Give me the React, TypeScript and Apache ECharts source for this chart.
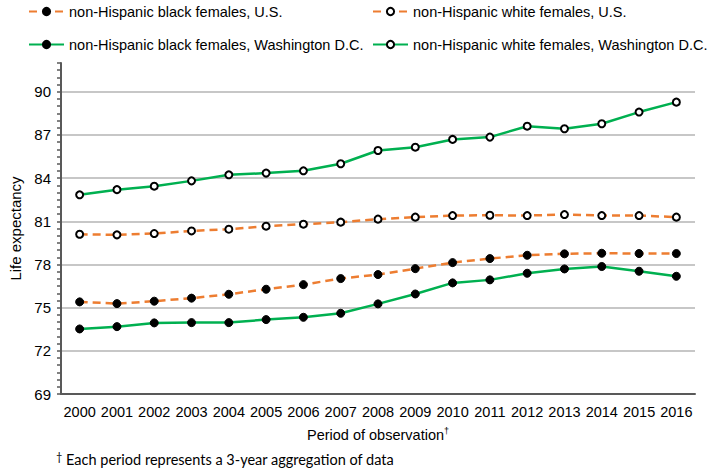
import React, { useEffect, useRef } from "react";
import * as echarts from "echarts";

const periods = ["2000","2001","2002","2003","2004","2005","2006","2007","2008","2009","2010","2011","2012","2013","2014","2015","2016"];
const usBlack = [75.4,75.28,75.45,75.66,75.93,76.28,76.6,77.02,77.3,77.71,78.13,78.41,78.64,78.74,78.78,78.76,78.76];
const usWhite = [80.1,80.06,80.15,80.33,80.45,80.66,80.8,80.94,81.15,81.29,81.4,81.42,81.4,81.47,81.4,81.4,81.29];
const dcBlack = [73.52,73.68,73.94,73.96,73.96,74.17,74.33,74.61,75.26,75.95,76.72,76.93,77.39,77.69,77.86,77.53,77.18];
const dcWhite = [82.84,83.2,83.44,83.81,84.23,84.35,84.51,85.0,85.92,86.15,86.69,86.85,87.61,87.43,87.78,88.59,89.28];
const seriesNames = [
  "non-Hispanic black females, U.S.",
  "non-Hispanic white females, U.S.",
  "non-Hispanic black females, Washington D.C.",
  "non-Hispanic white females, Washington D.C.",
];
const yMin = 69;
const yMax = 92;
const yStep = 3;

const FONT = "Liberation Sans, Arial, sans-serif";
const ORANGE = "#ED7D31";
const GREEN = "#00B050";

export default function App() {
  const ref = useRef<HTMLDivElement>(null);
  useEffect(() => {
    if (!ref.current) return;
    const chart = echarts.init(ref.current, null, { renderer: "svg" });
    const filled = { color: "#000", borderColor: "#000", borderWidth: 1 };
    const open = { color: "#fff", borderColor: "#000", borderWidth: 2 };
    const mk = (name: string, data: number[], color: string, dashed: boolean, isOpen: boolean) => ({
      name,
      type: "line",
      data,
      symbol: "circle",
      symbolSize: isOpen ? 7 : 8,
      lineStyle: { color, width: 2.5, type: dashed ? [8, 5] : "solid" },
      itemStyle: isOpen ? open : filled,
      z: isOpen ? 3 : 2,
    });
    const legendPos = [
      { left: 28, top: 4 },
      { left: 372, top: 4 },
      { left: 28, top: 37 },
      { left: 372, top: 37 },
    ];
    chart.setOption({
      animation: false,
      backgroundColor: "#fff",
      legend: seriesNames.map((n, i) => ({
        data: [n],
        left: legendPos[i].left,
        top: legendPos[i].top,
        itemWidth: 35,
        itemHeight: 9,
        padding: 0,
        textStyle: { fontFamily: FONT, fontSize: 14.5, color: "#000" },
        selectedMode: false,
      })),
      grid: { left: 52, right: 13, top: 63, bottom: 78 },
      xAxis: {
        type: "category",
        data: periods,
        boundaryGap: true,
        axisLine: { lineStyle: { color: "#595959", width: 2 } },
        axisTick: { alignWithLabel: true, length: 5, lineStyle: { color: "#595959", width: 1.5 } },
        axisLabel: { fontFamily: FONT, fontSize: 14.5, color: "#000", margin: 10, interval: 0 },
        name: "Period of observation{sup|†}",
        nameLocation: "middle",
        nameGap: 32,
        nameTextStyle: {
          fontFamily: FONT,
          fontSize: 14.5,
          color: "#000",
          rich: { sup: { fontFamily: FONT, fontSize: 9, verticalAlign: "top", padding: [0, 0, 8, 0] } },
        },
      },
      yAxis: {
        type: "value",
        min: yMin,
        max: yMax,
        interval: 1,
        axisLine: { show: true, lineStyle: { color: "#595959", width: 2 } },
        axisTick: { show: true, length: 4, lineStyle: { color: "#595959", width: 1.5 } },
        minorTick: { show: true, splitNumber: 2, length: 4, lineStyle: { color: "#595959", width: 1.5 } },
        axisLabel: {
          fontFamily: FONT,
          fontSize: 15,
          color: "#000",
          margin: 10,
          formatter: (v: number) => ((v - yMin) % yStep === 0 ? String(v) : ""),
        },
        splitLine: {
          show: true,
          showMaxLine: false,
          lineStyle: { color: ["#b4b4b4", "rgba(0,0,0,0)", "rgba(0,0,0,0)"], width: 1.5 },
        },
        name: "Life expectancy",
        nameLocation: "middle",
        nameGap: 38,
        nameTextStyle: { fontFamily: FONT, fontSize: 15, color: "#000" },
      },
      graphic: [
        {
          type: "text",
          left: 56,
          top: 451,
          style: {
            text: "{sup|†} Each period represents a 3-year aggregation of data",
            fontFamily: "Lato, 'Open Sans', sans-serif",
            fontSize: 14.5,
            fill: "#000",
            rich: { sup: { fontFamily: "Lato, sans-serif", fontSize: 11, verticalAlign: "top", padding: [0, 0, 6, 0] } },
          },
        },
      ],
      series: [
        mk(seriesNames[0], usBlack, ORANGE, true, false),
        mk(seriesNames[1], usWhite, ORANGE, true, true),
        mk(seriesNames[2], dcBlack, GREEN, false, false),
        mk(seriesNames[3], dcWhite, GREEN, false, true),
      ],
    });
    return () => chart.dispose();
  }, []);
  return <div ref={ref} style={{ position: "fixed", left: 0, top: 0, width: 708, height: 472 }} />;
}
